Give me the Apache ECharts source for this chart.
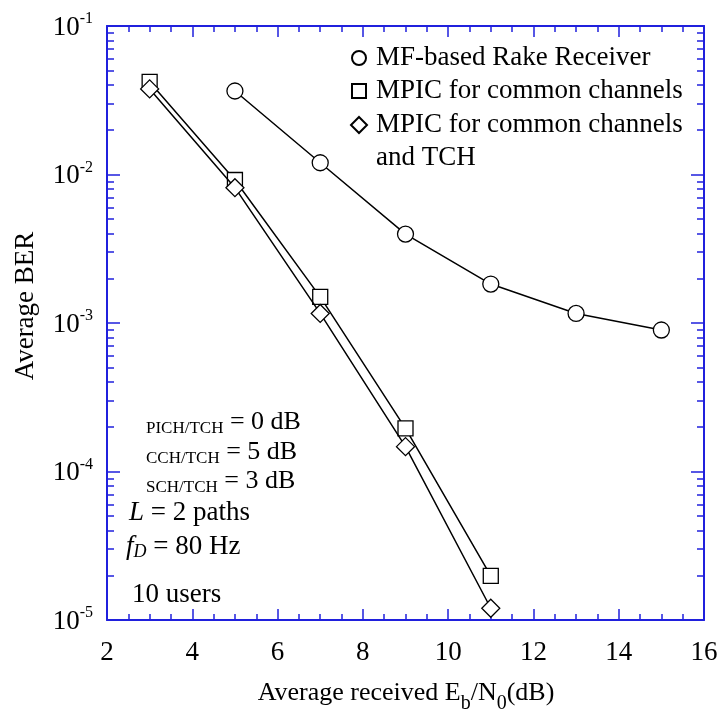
<!DOCTYPE html>
<html>
<head>
<meta charset="utf-8">
<script src="https://cdn.jsdelivr.net/npm/echarts@6/dist/echarts.min.js"></script>
<style>html,body{margin:0;padding:0;background:#fff;}#c{width:720px;height:716px;}</style>
</head>
<body>
<div id="c"></div>
<script>
// ---- data ----
const ebn0Rake = [5, 7, 9, 11, 13, 15];
const berRake = [0.0365, 0.0120, 0.00397, 0.00183, 0.00116, 0.000897];
const ebn0Mpic = [3, 5, 7, 9, 11];
const berMpicCommon = [0.0420, 0.00918, 0.00150, 0.000195, 1.98e-5];
const berMpicTch = [0.0377, 0.00815, 0.00116, 0.000147, 1.20e-5];
const seriesNames = ['MF-based Rake Receiver', 'MPIC for common channels', 'MPIC for common channels and TCH'];
const xMin = 2, xMax = 16, xStep = 2;
const yExpMin = -5, yExpMax = -1;

const FONT = 'Liberation Serif';
const BLUE = '#2020dd';

// minor tick positions (log10 of 2..9 x 10^k)
const yMinorExp = [];
for (let k = yExpMin; k < yExpMax; k++) for (let m = 2; m <= 9; m++) yMinorExp.push(k + Math.log10(m));

function pairs(xs, ys) { return xs.map((x, i) => [x, ys[i]]); }

const majorY = (pos, labels) => ({
  type: 'value', gridIndex: 0, position: pos, min: yExpMin, max: yExpMax, interval: 1,
  axisLine: { show: true, lineStyle: { color: BLUE, width: 2 } },
  axisTick: { show: true, inside: true, length: 13, lineStyle: { color: BLUE, width: 1.5 } },
  splitLine: { show: false },
  axisLabel: labels ? {
    show: true, margin: 14, color: '#000', fontFamily: FONT,
    formatter: v => '{b|10}{s|' + v + '}',
    rich: {
      b: { fontSize: 27, fontFamily: FONT, color: '#000', lineHeight: 30, verticalAlign: 'bottom' },
      s: { fontSize: 16, fontFamily: FONT, color: '#000', lineHeight: 30, verticalAlign: 'top' }
    }
  } : { show: false }
});
const minorY = (pos) => ({
  type: 'value', gridIndex: 0, position: pos, min: yExpMin, max: yExpMax, interval: 1,
  axisLine: { show: false },
  axisTick: { show: true, inside: true, length: 7, customValues: yMinorExp, lineStyle: { color: BLUE, width: 1.5 } },
  splitLine: { show: false },
  axisLabel: { show: false }
});
const xAx = (pos, labels) => ({
  type: 'value', gridIndex: 0, position: pos, min: xMin, max: xMax, interval: xStep,
  axisLine: { show: true, lineStyle: { color: BLUE, width: 2 } },
  axisTick: { show: true, inside: true, length: 11, lineStyle: { color: BLUE, width: 1.5 } },
  minorTick: { show: true, splitNumber: 4, length: 6, lineStyle: { color: BLUE, width: 1.5 } },
  splitLine: { show: false }, minorSplitLine: { show: false },
  axisLabel: labels ? { show: true, margin: 19, color: '#000', fontSize: 27, fontFamily: FONT } : { show: false }
});

const markerStyle = { color: '#fff', borderColor: '#000', borderWidth: 1.3 };
const lineStyle = { color: '#000', width: 1.5 };

const chart = echarts.init(document.getElementById('c'), null, { renderer: 'canvas' });
chart.setOption({
  animation: false,
  backgroundColor: '#fff',
  grid: { left: 107, right: 16, top: 26, bottom: 96, containLabel: false, outerBoundsMode: 'none' },
  xAxis: [xAx('bottom', true), xAx('top', false)],
  yAxis: [
    { type: 'log', logBase: 10, min: 1e-5, max: 1e-1, show: false },
    majorY('left', true), minorY('left'), majorY('right', false), minorY('right')
  ],
  legend: [
    {
      orient: 'vertical', left: 351, top: 41.5, padding: 0, itemGap: 0, itemWidth: 14, itemHeight: 14,
      data: [{ name: seriesNames[0], icon: 'circle' }, { name: seriesNames[1], icon: 'rect' }],
      textStyle: { fontSize: 27, fontFamily: FONT, color: '#000', lineHeight: 33, padding: [0, 0, 0, 5] },
      selectedMode: false
    },
    {
      orient: 'vertical', left: 350, top: 75.5, padding: 0, itemGap: 0, itemWidth: 16, itemHeight: 16,
      data: [{ name: seriesNames[2], icon: 'diamond' }],
      formatter: () => '\nMPIC for common channels\nand TCH',
      textStyle: { fontSize: 27, fontFamily: FONT, color: '#000', lineHeight: 33, padding: [0, 0, 0, 4] },
      selectedMode: false
    }
  ],
  series: [
    { name: seriesNames[0], type: 'line', xAxisIndex: 0, yAxisIndex: 0, data: pairs(ebn0Rake, berRake),
      symbol: 'circle', symbolSize: 16, showAllSymbol: true, lineStyle, itemStyle: markerStyle, z: 3 },
    { name: seriesNames[1], type: 'line', xAxisIndex: 0, yAxisIndex: 0, data: pairs(ebn0Mpic, berMpicCommon),
      symbol: 'rect', symbolSize: 15, showAllSymbol: true, lineStyle, itemStyle: markerStyle, z: 3 },
    { name: seriesNames[2], type: 'line', xAxisIndex: 0, yAxisIndex: 0, data: pairs(ebn0Mpic, berMpicTch),
      symbol: 'diamond', symbolSize: 18, showAllSymbol: true, lineStyle, itemStyle: markerStyle, z: 4 }
  ],
  graphic: [
    { type: 'text', left: 146, top: 409, style: {
        text: '{sm|PICH/TCH}{n| = 0 dB}',
        rich: { sm: { fontSize: 17, fontFamily: FONT, lineHeight: 15, verticalAlign: 'bottom', fill: '#000' },
                n: { fontSize: 26, fontFamily: FONT, lineHeight: 30, verticalAlign: 'middle', fill: '#000' } } } },
    { type: 'text', left: 146, top: 439, style: {
        text: '{sm|CCH/TCH}{n| = 5 dB}',
        rich: { sm: { fontSize: 17, fontFamily: FONT, lineHeight: 15, verticalAlign: 'bottom', fill: '#000' },
                n: { fontSize: 26, fontFamily: FONT, lineHeight: 30, verticalAlign: 'middle', fill: '#000' } } } },
    { type: 'text', left: 146, top: 468, style: {
        text: '{sm|SCH/TCH}{n| = 3 dB}',
        rich: { sm: { fontSize: 17, fontFamily: FONT, lineHeight: 15, verticalAlign: 'bottom', fill: '#000' },
                n: { fontSize: 26, fontFamily: FONT, lineHeight: 30, verticalAlign: 'middle', fill: '#000' } } } },
    { type: 'text', left: 129, top: 499, style: {
        text: '{i|L}{n| = 2 paths}',
        rich: { i: { fontSize: 27, fontFamily: FONT, fontStyle: 'italic', lineHeight: 30, fill: '#000' },
                n: { fontSize: 27, fontFamily: FONT, lineHeight: 30, fill: '#000' } } } },
    { type: 'text', left: 126, top: 533, style: {
        text: '{i|f}{sub|D}{n| = 80 Hz}',
        rich: { i: { fontSize: 27, fontFamily: FONT, fontStyle: 'italic', lineHeight: 30, verticalAlign: 'middle', fill: '#000' },
                sub: { fontSize: 18, fontFamily: FONT, fontStyle: 'italic', lineHeight: 16, verticalAlign: 'bottom', fill: '#000' },
                n: { fontSize: 27, fontFamily: FONT, lineHeight: 30, verticalAlign: 'middle', fill: '#000' } } } },
    { type: 'text', left: 132, top: 581, style: {
        text: '10 users', font: '27px "Liberation Serif"', fill: '#000' } },
    { type: 'text', x: 406, y: 693, style: {
        text: '{n|Average received E}{sub|b}{n|/N}{sub|0}{n|(dB)}',
        align: 'center', verticalAlign: 'middle',
        rich: { n: { fontSize: 26, fontFamily: FONT, lineHeight: 42, verticalAlign: 'middle', fill: '#000' },
                sub: { fontSize: 20, fontFamily: FONT, lineHeight: 10, verticalAlign: 'bottom', fill: '#000' } } } },
    { type: 'text', x: 26, y: 306, rotation: Math.PI / 2, style: {
        text: 'Average BER', font: '27px "Liberation Serif"', fill: '#000', align: 'center', verticalAlign: 'middle' } }
  ]
});
</script>
</body>
</html>
